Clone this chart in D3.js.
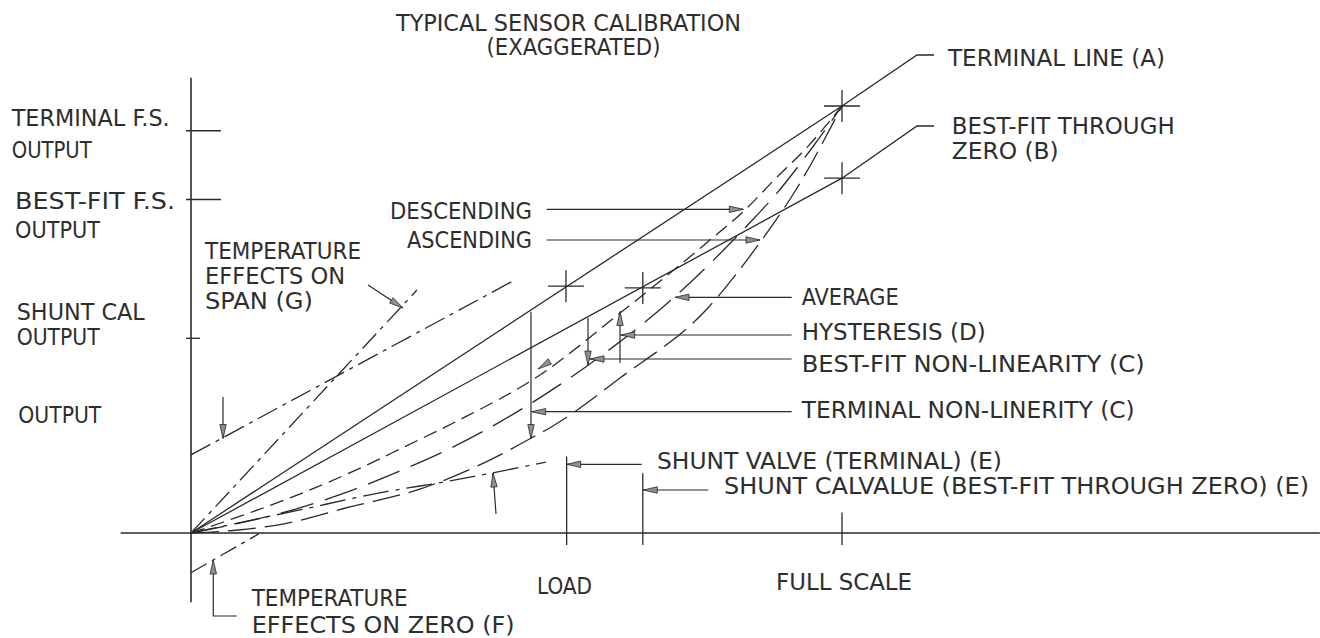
<html>
<head>
<script src="https://d3js.org/d3.v7.min.js"></script>
<style>
  body { margin: 0; background: #fff; }
  svg text { font-family: "Liberation Sans Narrow", "DejaVu Sans Condensed", "Liberation Sans", sans-serif; font-size: 22.5px; fill: #2e2e2e; }
</style>
</head>
<body>
<svg id="calib" width="1320" height="638"></svg>
<script>
// load and output both in % of terminal full scale
const terminalLine = [[0, 0], [100, 100]];
const bestFitLine = [[0, 0], [100, 83.1]];
const descending = [[0, 0], [19.4, 10.8], [27.0, 15.9], [32.4, 19.9], [40.6, 26.0], [53.6, 37.0], [65.9, 51.5], [79.0, 67.7], [85.4, 76.1], [89.4, 82.4], [94.8, 90.6], [100, 100]];
const average = [[0, 0], [16.7, 5.9], [24.9, 10.1], [33.6, 15.5], [39.0, 19.2], [47.2, 25.8], [61.0, 39.3], [74.3, 55.3], [85.8, 72.6], [90.0, 79.6], [95.5, 90.4], [100, 100]];
const ascending = [[0, 0], [7.2, 0.7], [14.1, 2.1], [24.4, 6.1], [35.6, 10.5], [47.5, 18.3], [52.2, 22.2], [55.1, 24.6], [65.9, 36.3], [79.4, 52.7], [86.9, 67.0], [93.1, 80.8], [100, 100]];
const shuntLine = [[0, 0], [16.7, 5.4], [29.0, 9.4], [39.8, 12.2], [54.5, 16.6]];
const tempSpan = [[0, 0], [34.7, 56.9]];
const tempZeroUp = [[0, 18.3], [49.8, 59.3]];
const tempZeroDown = [[0, -9.3], [10.4, -0.2]];
const crossPoints = [[100, 100], [100, 83.1], [57.6, 57.8], [69.4, 57.4]];
const outputTicks = [94.2, 78.1, 45.6];
const loadMarks = [[57.7, 17.9], [69.4, 14.0], [100, 4.8]];

const svg = d3.select('#calib');
const x = d3.scaleLinear().domain([0, 100]).range([191, 842]);
const y = d3.scaleLinear().domain([0, 100]).range([533, 106]);
const ink = '#2a2a2a';

const straight = d3.line().x(d => x(d[0])).y(d => y(d[1]));
const smooth = d3.line().x(d => x(d[0])).y(d => y(d[1])).curve(d3.curveMonotoneX);

function path(data, gen, dash) {
    svg.append('path').attr('d', gen(data))
        .attr('fill', 'none').attr('stroke', ink).attr('stroke-width', 1.3)
        .attr('stroke-dasharray', dash || null);
}
function seg(x1, y1, x2, y2, w) {
    svg.append('line').attr('x1', x1).attr('y1', y1).attr('x2', x2).attr('y2', y2)
        .attr('stroke', ink).attr('stroke-width', w || 1.3);
}
// arrow head with its tip at (tx,ty), pointing away from (fx,fy)
function head(fx, fy, tx, ty) {
    const a = Math.atan2(ty - fy, tx - fx), L = 14, W = 3.2;
    const bx = tx - L * Math.cos(a), by = ty - L * Math.sin(a);
    const px = -Math.sin(a) * W, py = Math.cos(a) * W;
    svg.append('polygon')
        .attr('points', `${tx},${ty} ${bx + px},${by + py} ${bx - px},${by - py}`)
        .attr('fill', '#8a9096').attr('stroke', ink).attr('stroke-width', 0.8);
}
function arrow(fx, fy, tx, ty) { seg(fx, fy, tx, ty, 1.2); head(fx, fy, tx, ty); }
function label(t, lx, ly, w) {
    svg.append('text').attr('x', lx).attr('y', ly).text(t)
        .attr('textLength', w).attr('lengthAdjust', 'spacingAndGlyphs');
}

// axes
seg(x(-10.8), y(0), x(173.4), y(0), 1.6);
seg(x(0), y(106.6), x(0), y(-16.2), 1.6);
outputTicks.forEach((v, i) => seg(x(0) - 5, y(v), x(0) + (i < 2 ? 30 : 9), y(v), 1.3));
loadMarks.forEach(d => seg(x(d[0]), y(d[1]), x(d[0]), y(0) + 12, 1.3));

// calibration lines
path(terminalLine, straight);
path(bestFitLine, straight);
path(descending, smooth, '14,7');
path(average, smooth, '34,12');
path(ascending, smooth, '28,9');
path(shuntLine, smooth, '26,7,4,7');
path(tempSpan, straight, '20,6,4,6');
path(tempZeroUp, straight, '22,6,4,6');
path(tempZeroDown, straight, '18,6,4,6');

// crosses
crossPoints.forEach(d => {
    seg(x(d[0]) - 18, y(d[1]), x(d[0]) + 18, y(d[1]), 1.3);
    seg(x(d[0]), y(d[1]) - 16, x(d[0]), y(d[1]) + 16, 1.3);
});

// leaders to right-hand titles
const tA = crossPoints[0], tB = crossPoints[1];
svg.append('polyline').attr('points', `${x(tA[0])},${y(tA[1])} 917,55 934,55`)
    .attr('fill', 'none').attr('stroke', ink).attr('stroke-width', 1.3);
svg.append('polyline').attr('points', `${x(tB[0])},${y(tB[1])} 917,126 934,126`)
    .attr('fill', 'none').attr('stroke', ink).attr('stroke-width', 1.3);

// dimension arrows
arrow(531, 311.7, 531, 438.5);
arrow(588, 318, 588, 365);
arrow(620, 363, 620, 311.5);
arrow(223, 397, 223, 438.5);
arrow(496, 514, 493, 473);
arrow(368, 285, 403, 308);
svg.append('polyline').attr('points', '236.7,616 213.3,616 213.3,561')
    .attr('fill', 'none').attr('stroke', ink).attr('stroke-width', 1.2);
head(213.3, 600, 213.3, 560);
head(555, 358, 538, 369);

// horizontal leaders
arrow(546.7, 209.3, 743.3, 209.3);
arrow(546.7, 240, 760, 240);
arrow(791.7, 297.3, 675, 297.3);
arrow(791.7, 335, 620.7, 335);
arrow(791.7, 359, 590, 359);
arrow(791.7, 411.7, 531.7, 411.7);
arrow(641.7, 464.3, 566.7, 464.3);
arrow(708.3, 490, 643.3, 490);

// text
label('TYPICAL SENSOR CALIBRATION', 396, 30.5, 345);
label('(EXAGGERATED)', 486.5, 55, 174);
label('TERMINAL LINE (A)', 948, 65.7, 217);
label('BEST-FIT THROUGH', 951.7, 134, 223);
label('ZERO (B)', 951.7, 159.3, 107);
label('TERMINAL F.S.', 11.7, 125.7, 158);
label('OUTPUT', 11.7, 158.3, 80);
label('BEST-FIT F.S.', 15, 209.3, 160);
label('OUTPUT', 15, 238.3, 85);
label('SHUNT CAL', 16.7, 320, 128);
label('OUTPUT', 16.7, 345, 83);
label('OUTPUT', 18.3, 423.3, 83);
label('TEMPERATURE', 205, 259.3, 156);
label('EFFECTS ON', 205, 284.3, 140);
label('SPAN (G)', 205, 309.3, 108);
label('DESCENDING', 390, 219.3, 142);
label('ASCENDING', 407, 247.7, 125);
label('AVERAGE', 801.7, 305, 97);
label('HYSTERESIS (D)', 801.7, 340, 184);
label('BEST-FIT NON-LINEARITY (C)', 801.7, 371.7, 343);
label('TERMINAL NON-LINERITY (C)', 801.7, 418.3, 333);
label('SHUNT VALVE (TERMINAL) (E)', 657, 469, 345);
label('SHUNT CALVALUE (BEST-FIT THROUGH ZERO) (E)', 724, 494, 585);
label('LOAD', 537, 594, 55);
label('FULL SCALE', 776, 590, 136);
label('TEMPERATURE', 251.7, 606, 156);
label('EFFECTS ON ZERO (F)', 251.7, 632.6, 263);
</script>
</body>
</html>
